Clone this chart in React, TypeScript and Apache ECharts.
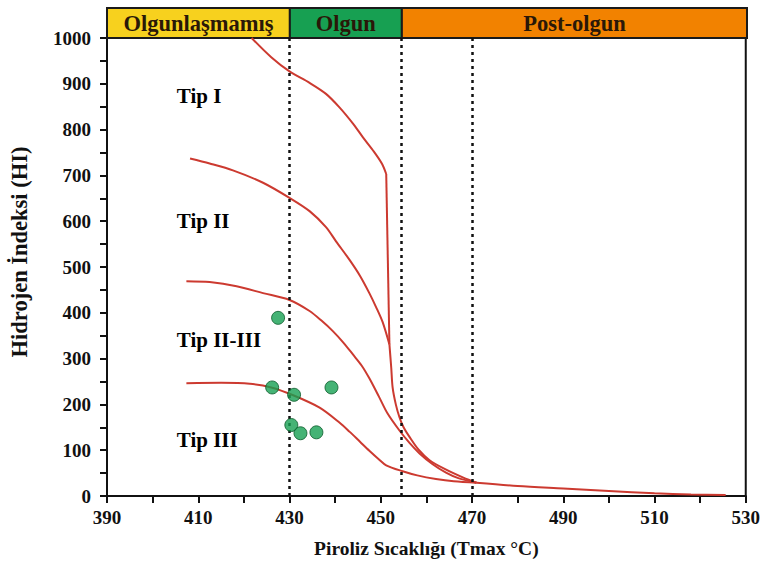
import React, { useEffect, useRef } from "react";
import * as echarts from "echarts";

// Curves (Tmax °C, HI)
const tipI: number[][] = [
  [421.7, 1000], [426, 958], [430, 927], [434.4, 902], [438, 878], [441, 848],
  [444, 812], [446.1, 783], [448.5, 752], [450.3, 725], [451.2, 703],
];
const tipIDrop: number[][] = [[451.2, 703], [451.9, 331]];
const tipII: number[][] = [
  [408.2, 737], [412.5, 726], [417.6, 711], [424.2, 684], [430, 651], [434.4, 622],
  [438, 587], [440.2, 556], [443.2, 515], [445.5, 480], [447.5, 443], [449, 412],
  [450.4, 380], [451.9, 331],
];
const tipIandIIMerged: number[][] = [
  [451.9, 331], [452.3, 280], [452.6, 237], [453.3, 200], [454.1, 172], [455, 150],
  [456.3, 129], [458.3, 101], [460.7, 78], [464, 59], [468.1, 40], [471, 29],
];
const tipIIIII: number[][] = [
  [407.4, 469], [412.5, 467], [418.4, 458], [424.2, 443], [430, 428], [434.4, 404],
  [437, 383], [439.5, 360], [441.8, 335], [443.9, 309], [445.8, 285], [447.5, 257],
  [449.6, 217], [451.5, 180], [454.1, 143], [456.3, 116], [458.5, 93], [461.3, 70],
  [464.3, 51], [467, 39], [471, 29],
];
const tipIII: number[][] = [
  [407.4, 246], [415, 247], [421.3, 245], [426, 237], [430.8, 220],
  [436.6, 193], [441, 160], [443.2, 140], [445.5, 118], [447.5, 99], [449.5, 81],
  [451.2, 67], [454.8, 54], [458, 45], [462.1, 37], [466, 32], [471, 29],
];
const tail: number[][] = [
  [471, 29], [480, 22], [490, 16.5], [500, 11], [510, 6], [518, 3.5], [525.6, 2],
];

// Samples
const samples: number[][] = [
  [427.5, 389], [426.2, 237], [431, 221], [439.2, 237], [430.4, 155], [432.4, 137], [435.9, 139],
];

// Annotations (anchor in data coordinates)
const curveLabels: { name: string; value: number[] }[] = [
  { name: "Tip I", value: [405.3, 873] },
  { name: "Tip II", value: [405.3, 601] },
  { name: "Tip II-III", value: [405.3, 341] },
  { name: "Tip III", value: [405.3, 122] },
];

// Maturity zones
const zoneNames = ["Olgunlaşmamış", "Olgun", "Post-olgun"];
const zoneBounds = [390, 430, 454.5, 530];
const zoneColors = ["#f7d11e", "#17a052", "#f28200"];
const dividerLines = [430, 454.5, 470];

const xTicks = { min: 390, max: 530, step: 10, labelStep: 20 };
const yTicks = { min: 0, max: 1000, step: 50, labelStep: 100 };

const FONT = "'Liberation Serif', 'Times New Roman', serif";
const LINE = "#cc3a30";

export default function App() {
  const ref = useRef<HTMLDivElement>(null);
  useEffect(() => {
    if (!ref.current) return;
    const chart = echarts.init(ref.current, undefined, { renderer: "svg" });
    const lineSeries = (name: string, data: number[][], smooth: number | boolean = 0.3) => ({
      name,
      type: "line",
      data,
      showSymbol: false,
      symbol: "none",
      smooth,
      lineStyle: { color: LINE, width: 2 },
      z: 3,
    });
    chart.setOption({
      animation: false,
      backgroundColor: "#ffffff",
      grid: [
        { left: 107, right: 16, top: 38, bottom: 64, show: true, borderColor: "#111", borderWidth: 2 },
        { left: 107, right: 16, top: 8, height: 30 },
      ],
      xAxis: [
        {
          type: "value",
          min: xTicks.min,
          max: xTicks.max,
          interval: xTicks.step,
          gridIndex: 0,
          name: "Piroliz Sıcaklığı (Tmax °C)",
          nameLocation: "middle",
          nameGap: 42,
          nameTextStyle: { fontFamily: FONT, fontWeight: "bold", fontSize: 19.5, color: "#111" },
          axisLine: { lineStyle: { color: "#111", width: 2 } },
          axisTick: { inside: false, length: 7, lineStyle: { color: "#111", width: 2 } },
          axisLabel: {
            margin: 12,
            fontFamily: FONT,
            fontWeight: "bold",
            fontSize: 19,
            color: "#111",
            formatter: (v: number) => ((v - xTicks.min) % xTicks.labelStep === 0 ? String(v) : ""),
          },
          splitLine: { show: false },
        },
        { type: "value", min: xTicks.min, max: xTicks.max, gridIndex: 1, show: false },
      ],
      yAxis: [
        {
          type: "value",
          min: yTicks.min,
          max: yTicks.max,
          interval: yTicks.step,
          gridIndex: 0,
          name: "Hidrojen İndeksi (HI)",
          nameLocation: "middle",
          nameGap: 76,
          nameTextStyle: {
            fontFamily: FONT,
            fontWeight: "bold",
            fontSize: 22.5,
            color: "#111",
            padding: [0, 0, 0, 30],
          },
          axisLine: { show: true, lineStyle: { color: "#111", width: 2 } },
          axisTick: { show: true, inside: false, length: 7, lineStyle: { color: "#111", width: 2 } },
          axisLabel: {
            margin: 16,
            fontFamily: FONT,
            fontWeight: "bold",
            fontSize: 19,
            color: "#111",
            formatter: (v: number) => (v % yTicks.labelStep === 0 ? String(v) : ""),
          },
          splitLine: { show: false },
        },
        { type: "value", min: 0, max: 1, gridIndex: 1, show: false },
      ],
      series: [
        lineSeries("Tip I", tipI),
        lineSeries("Tip I (düşüş)", tipIDrop, false),
        lineSeries("Tip II", tipII),
        lineSeries("Tip I-II", tipIandIIMerged),
        lineSeries("Tip II-III", tipIIIII),
        lineSeries("Tip III", tipIII),
        lineSeries("Tail", tail),
        {
          name: "Örnekler",
          type: "scatter",
          data: samples,
          symbol: "circle",
          symbolSize: 13,
          itemStyle: { color: "#17a052", borderColor: "#0b5a2a", borderWidth: 1 },
          z: 5,
          markLine: {
            silent: true,
            symbol: "none",
            label: { show: false },
            lineStyle: { color: "#111", type: [3, 4], width: 2.5 },
            data: dividerLines.map((x) => ({ xAxis: x })),
          },
        },
        {
          name: "labels",
          type: "scatter",
          data: curveLabels,
          symbolSize: 0,
          itemStyle: { opacity: 1 },
          label: {
            show: true,
            position: "right",
            distance: 0,
            formatter: (p: any) => p.name,
            fontFamily: FONT,
            fontWeight: "bold",
            fontSize: 21,
            color: "#000",
            opacity: 1,
            textBorderWidth: 0,
          },
          z: 6,
        },
        {
          name: "zones",
          type: "line",
          xAxisIndex: 1,
          yAxisIndex: 1,
          data: [],
          markArea: {
            silent: true,
            label: {
              show: true,
              position: "inside",
              fontFamily: FONT,
              fontWeight: "bold",
              fontSize: 22.5,
              color: "#2a1808",
            },
            data: zoneNames.map((n, i) => [
              { name: n, xAxis: zoneBounds[i], itemStyle: { color: zoneColors[i], borderColor: "#1a1a1a", borderWidth: 2 } },
              { xAxis: zoneBounds[i + 1] },
            ]),
          },
        },
      ],
    });
    return () => chart.dispose();
  }, []);
  return <div ref={ref} style={{ position: "fixed", left: 0, top: 0, width: 763, height: 563 }} />;
}
